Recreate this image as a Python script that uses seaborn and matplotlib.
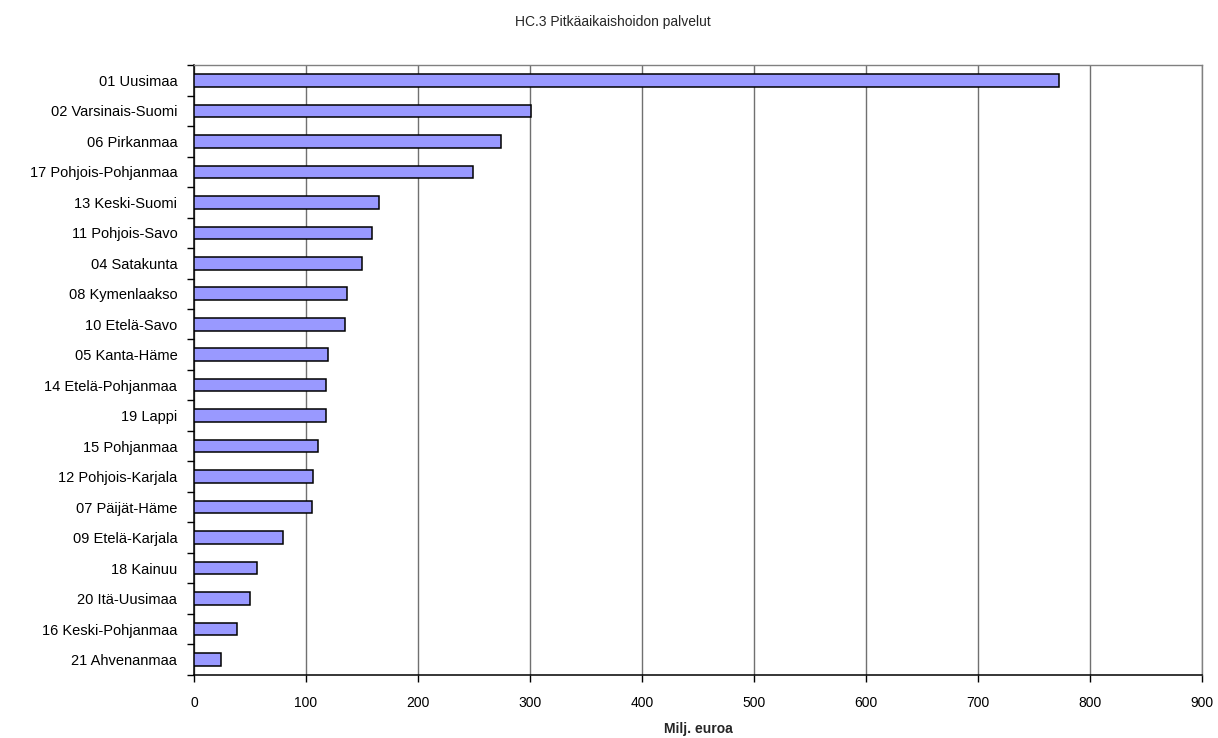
import matplotlib
matplotlib.use("Agg")
import matplotlib.pyplot as plt
from matplotlib.ticker import FixedLocator
import seaborn as sns
import pandas as pd

regions = [
    "01 Uusimaa", "02 Varsinais-Suomi", "06 Pirkanmaa", "17 Pohjois-Pohjanmaa",
    "13 Keski-Suomi", "11 Pohjois-Savo", "04 Satakunta", "08 Kymenlaakso",
    "10 Etelä-Savo", "05 Kanta-Häme", "14 Etelä-Pohjanmaa", "19 Lappi",
    "15 Pohjanmaa", "12 Pohjois-Karjala", "07 Päijät-Häme", "09 Etelä-Karjala",
    "18 Kainuu", "20 Itä-Uusimaa", "16 Keski-Pohjanmaa", "21 Ahvenanmaa",
]
costs = [
    772, 301, 274, 249,
    165, 159, 150, 137,
    135, 120, 118, 118,
    111, 106, 105, 79,
    56, 50, 38, 24,
]
x_ticks = [0, 100, 200, 300, 400, 500, 600, 700, 800, 900]

title = "HC.3 Pitkäaikaishoidon palvelut"
x_label = "Milj. euroa"

df = pd.DataFrame({"region": regions, "cost": costs})

sns.set_style("white")
plt.rcParams["font.family"] = ["Liberation Sans", "DejaVu Sans"]

fig = plt.figure(figsize=(12.18, 7.38), dpi=100)
ax = fig.add_axes([0.1593, 0.0854, 0.9869 - 0.1593, 0.9119 - 0.0854])

sns.barplot(data=df, x="cost", y="region", order=regions, orient="h",
            color="#9999FF", saturation=1, width=0.41,
            edgecolor="black", linewidth=1.1, ax=ax, zorder=3)

ax.set_xlim(0, 900)
ax.set_ylim(len(regions) - 0.5, -0.5)
ax.xaxis.set_major_locator(FixedLocator(x_ticks))
ax.grid(axis="x", color="#707070", linewidth=1.0, zorder=0)
ax.set_axisbelow(True)

# category boundary ticks on the value axis
ax.yaxis.set_major_locator(FixedLocator(range(len(regions))))
ax.yaxis.set_minor_locator(FixedLocator([i - 0.5 for i in range(len(regions) + 1)]))
ax.tick_params(axis="y", which="major", length=0, pad=12, labelsize=10.5, labelcolor="black")
ax.tick_params(axis="y", which="minor", length=5, width=1, color="black", left=True)
ax.tick_params(axis="x", which="major", length=5, width=1, color="black", bottom=True,
               pad=10, labelsize=10, labelcolor="black")

for side in ("left", "bottom"):
    ax.spines[side].set_color("black")
    ax.spines[side].set_linewidth(1.1)
for side in ("top", "right"):
    ax.spines[side].set_visible(True)
    ax.spines[side].set_color("#808080")
    ax.spines[side].set_linewidth(1.0)

ax.set_ylabel("")
ax.set_xlabel("")
fig.text(698 / 1218, 1 - 729 / 738, x_label, ha="center", va="center",
         fontsize=10, fontweight="bold")
fig.text(0.503, 0.97, title, ha="center", va="center", fontsize=10)

fig.savefig("out.png", dpi=100)
